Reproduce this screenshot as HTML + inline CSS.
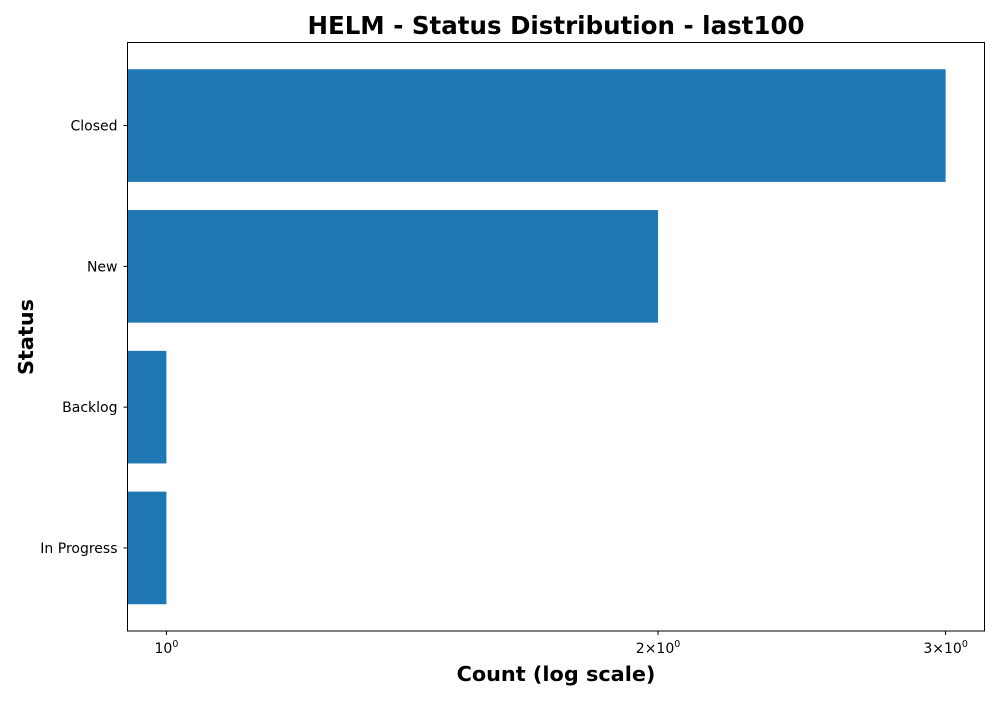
<!DOCTYPE html>
<html><head><meta charset="utf-8"><style>
body{margin:0;background:#fff;font-family:"Liberation Sans","DejaVu Sans",sans-serif;}
</style></head><body>
<svg width="1000" height="700" xmlns="http://www.w3.org/2000/svg">
<rect width="1000" height="700" fill="#fff"/>
<text x="556" y="34" text-anchor="middle" font-size="24.5" font-weight="bold" font-family="DejaVu Sans, sans-serif">HELM - Status Distribution - last100</text>
<g id="bars"></g>
<g id="ticks"></g>
<rect x="127.5" y="42.5" width="857" height="588.5" fill="none" stroke="#000" stroke-width="1"/>
<text x="556" y="681" text-anchor="middle" font-size="20.8" font-weight="bold" font-family="DejaVu Sans, sans-serif">Count (log scale)</text>
<text transform="translate(33,337) rotate(-90)" text-anchor="middle" font-size="20.8" font-weight="bold" font-family="DejaVu Sans, sans-serif">Status</text>
</svg>
<script>
const categories=["Closed","New","Backlog","In Progress"];
const counts=[3,2,1,1];
const xTicks=[1,2,3];
const xTickLabels=["10","2\u00d710","3\u00d710"];
const NS="http://www.w3.org/2000/svg";
const L=127.5,R=984.5,T=42.5,B=631;
const xmin=0.9466,xmax=3.169;
function x(v){return L+(Math.log(v)-Math.log(xmin))/(Math.log(xmax)-Math.log(xmin))*(R-L);}
const n=categories.length;
const pad=0.4+0.05*(n-1+0.8);
const unit=(B-T)/(n-1+2*pad);
function yc(i){return T+(pad+i)*unit;}
const bars=document.getElementById('bars'),ticks=document.getElementById('ticks');
categories.forEach((c,i)=>{
 const h=unit*0.8;
 const r=document.createElementNS(NS,'rect');
 r.setAttribute('x',L);r.setAttribute('y',yc(i)-h/2);
 r.setAttribute('width',x(counts[i])-L);r.setAttribute('height',h);
 r.setAttribute('fill','#1f77b4');
 
 
 bars.appendChild(r);
 const tk=document.createElementNS(NS,'line');
 tk.setAttribute('x1',L-4);tk.setAttribute('x2',L);tk.setAttribute('y1',yc(i));tk.setAttribute('y2',yc(i));tk.setAttribute('stroke','#000');
 
 
 ticks.appendChild(tk);
 const t=document.createElementNS(NS,'text');
 t.setAttribute('x',L-10);t.setAttribute('y',yc(i)+5);t.setAttribute('text-anchor','end');t.setAttribute('font-size','14');
 t.setAttribute('font-family','DejaVu Sans, sans-serif');
 t.textContent=c;
 
 
 ticks.appendChild(t);
});
xTicks.forEach((v,i)=>{
 const tk=document.createElementNS(NS,'line');
 tk.setAttribute('x1',x(v));tk.setAttribute('x2',x(v));tk.setAttribute('y1',B);tk.setAttribute('y2',B+4);tk.setAttribute('stroke','#000');
 
 
 ticks.appendChild(tk);
 const t=document.createElementNS(NS,'text');
 t.setAttribute('x',x(v));t.setAttribute('y',B+22);t.setAttribute('text-anchor','middle');t.setAttribute('font-size','14');
 t.setAttribute('font-family','DejaVu Sans, sans-serif');
 t.innerHTML=xTickLabels[i]+'<tspan font-size="9.5" dy="-6">0</tspan>';
 
 
 ticks.appendChild(t);
});
</script>
</body></html>
